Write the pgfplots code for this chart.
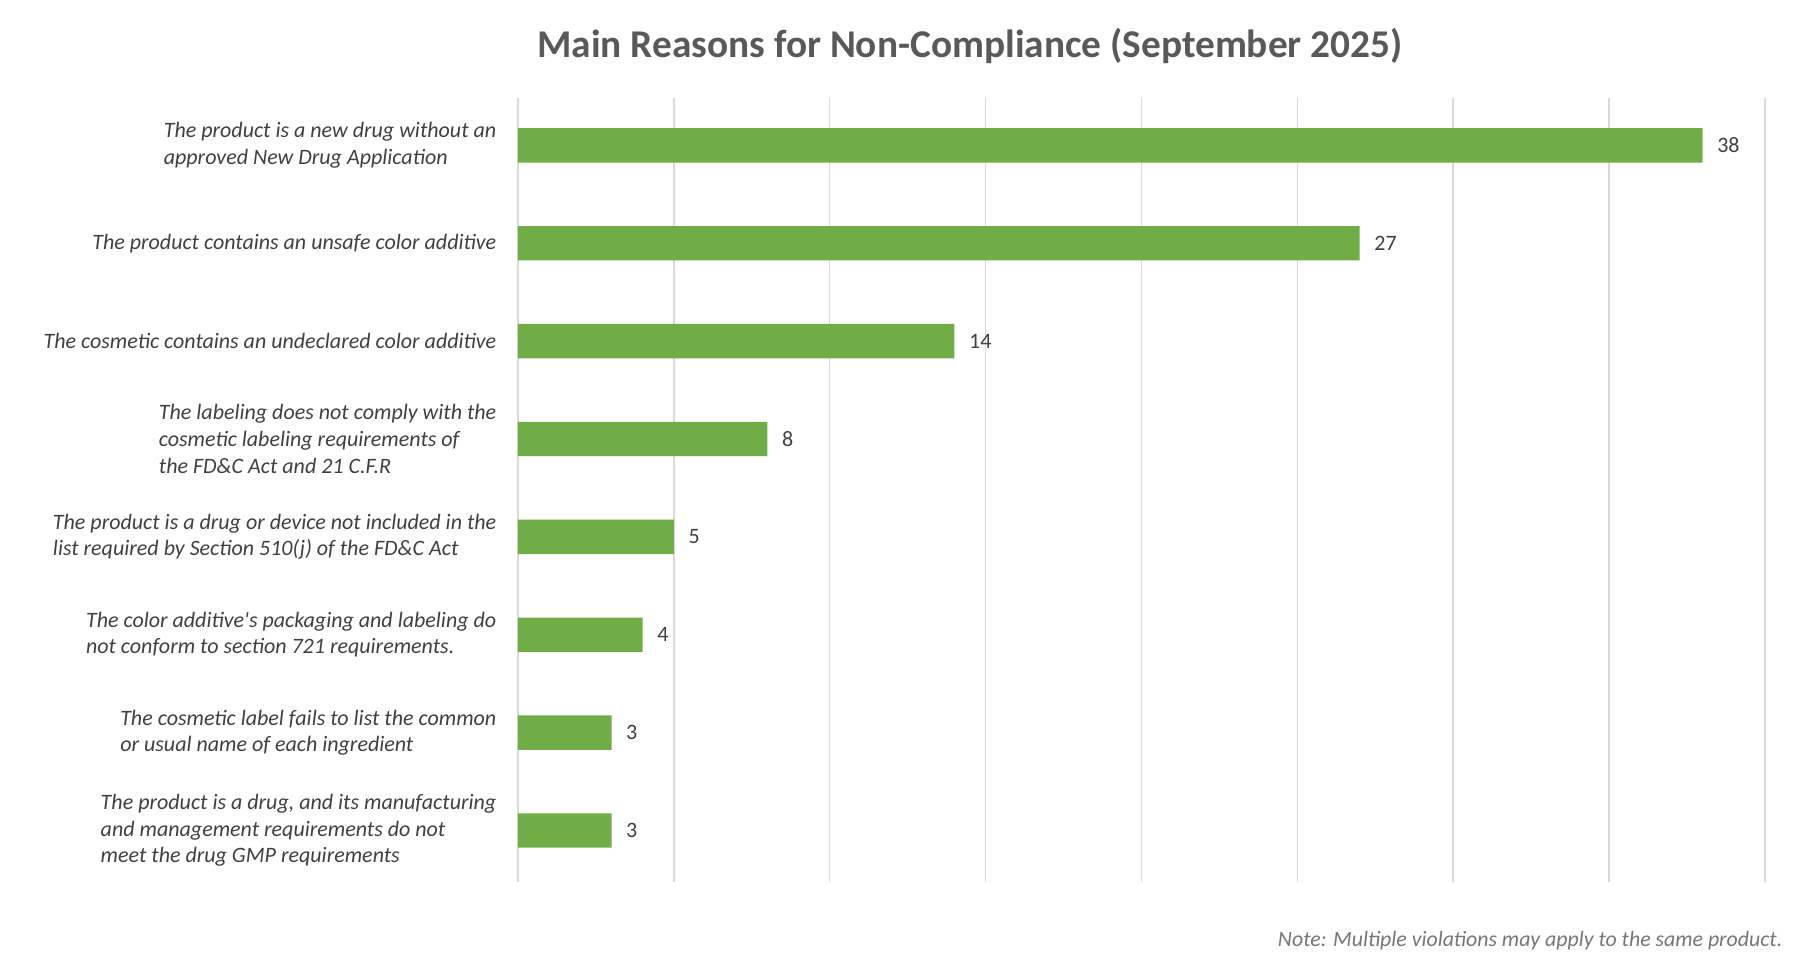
\documentclass[border=0pt]{standalone}
\usepackage{pgfplots}
\pgfplotsset{compat=1.18}
\usepackage{fontspec}
\setmainfont{Carlito}
\definecolor{bargreen}{HTML}{70AD47}
\definecolor{titlegray}{HTML}{595959}
\definecolor{labgray}{HTML}{404040}
\definecolor{notegray}{HTML}{767676}
\definecolor{gridgray}{HTML}{D9D9D9}
\newcommand{\px}{0.3pt}
\begin{document}
\begin{tikzpicture}[x=\px,y=\px]
\path[use as bounding box] (-518,-97.6) rectangle (1286,882.4);
\begin{axis}[
  at={(0,0)}, anchor=south west,
  scale only axis,
  width=374.1pt, height=235.2pt,
  xbar, bar width=0.352,
  xmin=0, xmax=40,
  ymin=-0.48, ymax=7.53,
  y dir=reverse,
  /pgf/number format/assume math mode=true,
  xtick={0,5,...,40}, xticklabels={},
  xmajorgrids, grid style={gridgray, line width=0.45pt},
  major tick length=0pt,
  axis line style={draw=none},
  ytick={0,...,7},
  yticklabels={
    {The product is a new drug without an\\approved New Drug Application},
    {The product contains an unsafe color additive},
    {The cosmetic contains an undeclared color additive},
    {The labeling does not comply with the\\cosmetic labeling requirements of\\the FD\&C Act and 21 C.F.R},
    {The product is a drug or device not included in the\\list required by Section 510(j) of the FD\&C Act},
    {The color additive\textquotesingle s packaging and labeling do\\not conform to section 721 requirements.},
    {The cosmetic label fails to list the common\\or usual name of each ingredient},
    {The product is a drug, and its manufacturing\\and management requirements do not\\meet the drug GMP requirements}
  },
  yticklabel style={align=left, anchor=east, inner sep=0pt, xshift=-6.3pt,
    font=\fontsize{6.6}{8}\selectfont\itshape, text=labgray},
  nodes near coords,
  nodes near coords style={anchor=west, inner sep=0pt, xshift=4.2pt,
    font=\fontsize{6.6}{8}\selectfont, text=labgray},
  clip=false,
]
\addplot[draw=none, fill=bargreen] coordinates {
  (38,0) (27,1) (14,2) (8,3) (5,4) (4,5) (3,6) (3,7)
};
\end{axis}
\node[font=\fontsize{11.8}{14}\selectfont\bfseries, text=titlegray] at (452,836.4) {Main Reasons for Non-Compliance (September 2025)};
\node[anchor=east, inner sep=0pt, font=\fontsize{6.55}{8}\selectfont\itshape, text=notegray] at (1265,-58.6) {Note: Multiple violations may apply to the same product.};
\end{tikzpicture}
\end{document}
